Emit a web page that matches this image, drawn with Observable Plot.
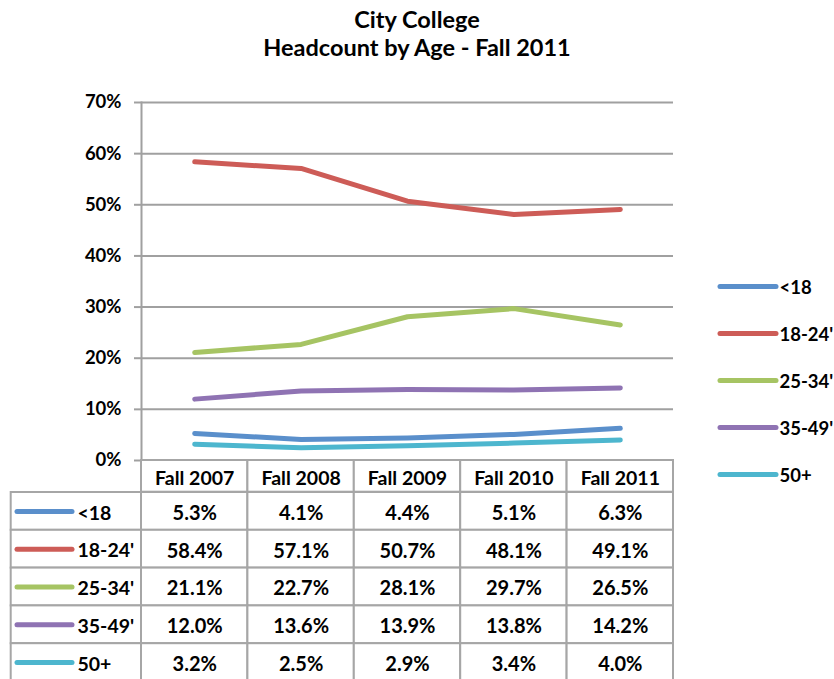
<!DOCTYPE html>
<html>
<head>
<meta charset="utf-8">
<script src="https://cdn.jsdelivr.net/npm/d3@7"></script>
<script src="https://cdn.jsdelivr.net/npm/@observablehq/plot@0.6"></script>
<style>
  html, body { margin: 0; padding: 0; background: #fff; }
  #wrap { position: relative; width: 834px; height: 679px; overflow: hidden; font-family: Lato, "DejaVu Sans", sans-serif; }
  #wrap > div { position: absolute; }
  #title { left: 0; top: 5px; width: 834px; text-align: center; font-weight: bold; font-size: 23.5px; line-height: 28px; color: #000; }
</style>
</head>
<body>
<div id="wrap">
  <div id="chart" style="left:0;top:0;width:834px"></div>
  <div id="header" style="left:0;top:459px;width:834px"></div>
  <div id="labels" style="left:0;top:490.7px;width:143px"></div>
  <div id="values" style="left:0;top:490.7px;width:834px"></div>
  <div id="legend" style="left:700px;top:262px;width:134px"></div>
  <div id="title">City College<br>Headcount by Age - Fall 2011</div>
</div>
<script>
// ---- data ----
const years = ["Fall 2007", "Fall 2008", "Fall 2009", "Fall 2010", "Fall 2011"];
const series = ["<18", "18-24'", "25-34'", "35-49'", "50+"];
const under18   = [5.3, 4.1, 4.4, 5.1, 6.3];
const age18to24 = [58.4, 57.1, 50.7, 48.1, 49.1];
const age25to34 = [21.1, 22.7, 28.1, 29.7, 26.5];
const age35to49 = [12.0, 13.6, 13.9, 13.8, 14.2];
const age50plus = [3.2, 2.5, 2.9, 3.4, 4.0];
const yTicks = [0, 10, 20, 30, 40, 50, 60, 70];
const colors = ["#5A8FCB", "#CD5C57", "#A6C463", "#8F73B3", "#4DB6CE"];

const valuesBySeries = [under18, age18to24, age25to34, age35to49, age50plus];
const rows = series.flatMap((s, i) => years.map((y, j) => ({series: s, year: y, value: valuesBySeries[i][j]})));

const gray = "#a0a0a0";
const tableGray = "#a6a6a6";
const baseStyle = {fontFamily: "Lato, 'DejaVu Sans', sans-serif", fontSize: "18px", fontWeight: "bold", color: "#000", background: "transparent", overflow: "visible"};

// ---- line chart ----
const chart = Plot.plot({
  width: 834, height: 472,
  marginTop: 102, marginBottom: 12, marginLeft: 141, marginRight: 161,
  style: baseStyle,
  x: {type: "point", domain: years, padding: 0.5, round: false, axis: null},
  y: {domain: [0, 70], axis: null},
  color: {domain: series, range: colors},
  marks: [
    Plot.gridY(yTicks, {stroke: gray, strokeOpacity: 1, strokeWidth: 2}),
    Plot.axisY(yTicks, {tickSize: 7, tickPadding: 13, stroke: gray, strokeWidth: 2, fill: "#000", fontSize: 18.5, tickFormat: d => d + "%", label: null}),
    Plot.frame({anchor: "left", stroke: gray, strokeWidth: 2}),
    Plot.line(rows, {x: "year", y: "value", z: "series", stroke: "series", strokeWidth: 5, strokeLinecap: "round", strokeLinejoin: "round"})
  ]
});
document.getElementById("chart").append(chart);

// ---- table header ----
const header = Plot.plot({
  width: 834, height: 34,
  marginTop: 1, marginBottom: 1.3, marginLeft: 141, marginRight: 161,
  style: baseStyle,
  x: {type: "band", domain: years, padding: 0, round: false, axis: null},
  marks: [
    Plot.cell(years, {x: d => d, fill: "white", stroke: tableGray, strokeWidth: 2}),
    Plot.text(years, {x: d => d, text: d => d, fill: "#000", fontSize: 19.5, dy: 2})
  ]
});
document.getElementById("header").append(header);

// ---- table values ----
const values = Plot.plot({
  width: 834, height: 200,
  marginTop: 1, marginBottom: 10, marginLeft: 141, marginRight: 161,
  style: baseStyle,
  x: {type: "band", domain: years, padding: 0, round: false, axis: null},
  y: {type: "band", domain: series, padding: 0, round: false, range: [1, 190], axis: null},
  marks: [
    Plot.cell(rows, {x: "year", y: "series", fill: "white", stroke: tableGray, strokeWidth: 2}),
    Plot.text(rows, {x: "year", y: "series", text: d => d.value.toFixed(1) + "%", fill: "#000", fontSize: 20, dy: 2})
  ]
});
document.getElementById("values").append(values);

// ---- table row labels ----
const labels = Plot.plot({
  width: 143, height: 200,
  marginTop: 1, marginBottom: 10, marginLeft: 10.7, marginRight: 2,
  style: baseStyle,
  x: {domain: [0, 1], range: [17, 72], axis: null},
  y: {type: "band", domain: series, padding: 0, round: false, range: [1, 190], axis: null},
  color: {domain: series, range: colors},
  marks: [
    Plot.cell(series, {y: d => d, fill: "white", stroke: tableGray, strokeWidth: 2}),
    Plot.ruleY(series, {y: d => d, x1: 0, x2: 1, stroke: d => d, strokeWidth: 5, strokeLinecap: "round"}),
    Plot.text(series, {y: d => d, x: 1, text: d => d, textAnchor: "start", dx: 5, fill: "#000", fontSize: 19.5, dy: 2})
  ]
});
document.getElementById("labels").append(labels);

// ---- legend ----
const legend = Plot.plot({
  width: 134, height: 240,
  margin: 0,
  style: baseStyle,
  x: {domain: [0, 1], range: [20, 76], axis: null},
  y: {type: "point", domain: series, padding: 0, range: [24, 212], round: false, axis: null},
  color: {domain: series, range: colors},
  marks: [
    Plot.ruleY(series, {y: d => d, x1: 0, x2: 1, stroke: d => d, strokeWidth: 5, strokeLinecap: "round"}),
    Plot.text(series, {y: d => d, x: 1, text: d => d, textAnchor: "start", dx: 3, fill: "#000", fontSize: 18.5, dy: 2})
  ]
});
document.getElementById("legend").append(legend);
</script>
</body>
</html>
